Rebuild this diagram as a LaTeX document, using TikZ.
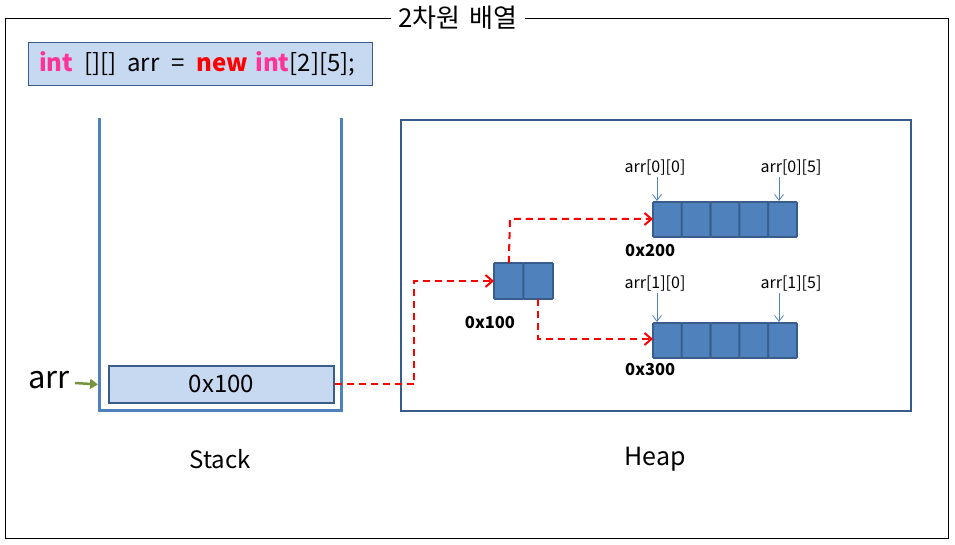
\documentclass[tikz,border=0pt]{standalone}
\usepackage{fontspec}
\setmainfont{Noto Sans CJK KR}
\usetikzlibrary{arrows.meta}
\definecolor{frameblue}{HTML}{385D8A}
\definecolor{cellblue}{HTML}{4F81BD}
\definecolor{lightblue}{HTML}{C6D9F1}
\definecolor{pinkkw}{HTML}{FF3399}
\definecolor{arrgreen}{HTML}{77933C}
\tikzset{
  lbox/.style={draw=frameblue, line width=1.8pt, fill=lightblue, inner sep=0pt},
  cell/.style={draw=frameblue, line width=1.8pt, fill=cellblue, minimum width=28.8pt, minimum height=35pt, inner sep=0pt, outer sep=0pt, rounded corners=0.8pt},
  scell/.style={cell, minimum width=29.5pt, minimum height=36pt},
  ptr/.style={draw=red, line width=2pt, dash pattern=on 7pt off 5pt, -{Straight Barb[length=7pt,width=12pt,line width=2pt]}},
  idx/.style={font=\fontsize{16}{16}\selectfont, inner sep=0pt},
  idxarr/.style={draw=cellblue, line width=0.8pt, -{Straight Barb[length=6pt,width=9pt,line width=0.8pt]}},
  addr/.style={font=\bfseries\fontsize{16.5}{16.5}\selectfont, inner sep=0pt},
  big/.style={font=\fontsize{24}{24}\selectfont, inner sep=0pt}
}
\begin{document}
\begin{tikzpicture}[x=1pt,y=-1pt]
\useasboundingbox (0,0) rectangle (955,545);
% outer frame
\draw[line width=0.9pt] (5,18) rectangle (948,538);
\node[fill=white, inner xsep=7pt, inner ysep=2pt, font=\fontsize{26}{26}\selectfont] (title) at (458,18) {2차원\hspace{0.35em}배열};
% code box
\node[lbox, line width=1pt, minimum width=344pt, minimum height=43pt, anchor=north west] (code) at (28,42) {};
\node[anchor=west, inner sep=0pt, font=\fontsize{24}{24}\selectfont] (codetxt) at (39,64) {\textcolor{pinkkw}{\bfseries int}\hspace{0.45em}[][]\hspace{0.45em}arr\hspace{0.5em}=\hspace{0.5em}\textcolor{red}{\bfseries new}\hspace{0.3em}\textcolor{pinkkw}{\bfseries int}[2][5];};
% stack
\coordinate (stl) at (99,118);
\coordinate (str) at (341,118);
\draw[cellblue, line width=3pt] (stl) |- (341,410) coordinate (sbr) -- (str);
\node[lbox, minimum width=225pt, minimum height=37pt, anchor=north west, big] (sbox) at (108,365) {0x100};
\node[anchor=east, inner sep=0pt, font=\fontsize{31}{31}\selectfont] (arrlbl) at (70,380) {arr};
\draw[arrgreen, line width=2.5pt, -{Triangle[length=8pt,width=10pt]}] (75,383) coordinate (ga) -- (sbox.west -| 98,0);
\node[big] (stacklbl) at (220,459) {Stack};
% heap
\node[draw=frameblue, line width=2.2pt, minimum width=510pt, minimum height=291pt, anchor=north west] (heap) at (400,119) {};
\node[font=\fontsize{25}{25}\selectfont, inner sep=0pt] (heaplbl) at (655,459) {Heap};
% small array 0x100
\node[scell, anchor=north west] (p0) at (494,263) {};
\node[scell, anchor=west] (p1) at (p0.east) {};
\node[addr] (a100) at (490,323) {0x100};
% row arrays
\foreach \r/\y in {0/202,1/323}{
  \node[cell, anchor=north west] (r\r c0) at (653,\y) {};
  \foreach \c [remember=\c as \lastc (initially 0)] in {1,...,4}{
    \node[cell, anchor=west] (r\r c\c) at (r\r c\lastc.east) {};
  }
}
\node[addr, anchor=west] (a200) at (625,251) {0x200};
\node[addr, anchor=west] (a300) at (625,370) {0x300};
% index labels
\node[idx] (i00) at (655,168) {arr[0][0]};
\node[idx] (i05) at (791,168) {arr[0][5]};
\node[idx] (i10) at (655,284) {arr[1][0]};
\node[idx] (i15) at (791,284) {arr[1][5]};
\draw[idxarr] (657,177) -- (657,201);
\draw[idxarr] (779,177) -- (779,201);
\draw[idxarr] (657,293) -- (657,322);
\draw[idxarr] (779,293) -- (779,322);
% pointers
\draw[ptr] (sbox.east) -| (414,281) -- (p0.west);
\draw[ptr] (p0.north) -- (510,219) -- (r0c0.west |- 0,219);
\draw[ptr] (538,299) -- (538,339) -- (r1c0.west |- 0,339);
\end{tikzpicture}
\end{document}
